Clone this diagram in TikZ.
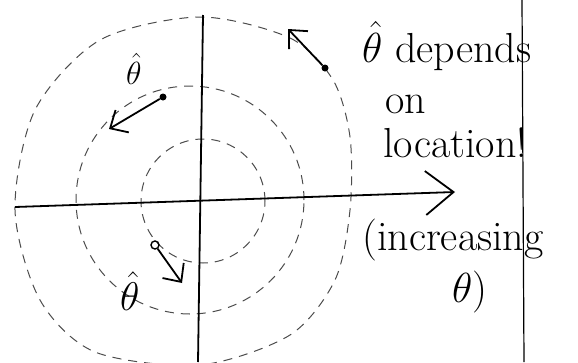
\RequirePackage{fix-cm}
\documentclass[tikz,border=0pt]{standalone}
\usetikzlibrary{arrows.meta}
\tikzset{
  ring/.style={black!70, line width=1pt, dash pattern=on 9pt off 7pt},
  axisline/.style={line width=1.8pt},
  hatarrow/.style={line width=1.8pt, -{Straight Barb[length=14pt,width=26pt]}},
  dot/.style={circle, fill, inner sep=0pt, minimum size=7pt},
  opendot/.style={circle, draw, line width=1.4pt, inner sep=0pt, minimum size=8pt},
  scrawl/.style={font=\fontsize{42}{46}\selectfont, inner sep=0pt, anchor=base west},
  glyph/.style={font=\fontsize{40}{40}\selectfont, inner sep=0pt, anchor=base west},
}
\begin{document}
\begin{tikzpicture}[x=1pt,y=-1pt]
\useasboundingbox (0,0) rectangle (578,362);

% Rings of constant radius
\draw[ring] (203,201) circle[radius=62pt];
\draw[ring] (190,200) circle[radius=114pt];
\draw[ring] plot[smooth cycle] coordinates {(200,17) (290,38) (333,80) (350,137)
  (350,210) (335,280) (290,335) (200,365) (95,352) (40,300) (15,210) (35,110) (100,40)};

% Axes
\coordinate (xstart) at (15,207);
\coordinate (xend) at (455,192);
\coordinate (ytop) at (203,15);
\coordinate (ybot) at (198,362);
\draw[axisline, -{Straight Barb[length=28pt,width=44pt]}] (xstart) -- (xend);
\draw[axisline] (ytop) -- (ybot);

% Margin line
\coordinate (mtop) at (522,0);
\coordinate (mbot) at (524,362);
\draw[line width=1.2pt] (mtop) -- (mbot);

% Unit vectors
\node[dot] (pA) at (325,68) {};
\coordinate (tipA) at (288,29);
\draw[hatarrow] (pA) -- (tipA);

\node[dot] (pB) at (163,97) {};
\coordinate (tipB) at (109,129);
\draw[hatarrow] (pB) -- (tipB);

\node[opendot] (pC) at (155,245) {};
\coordinate (tipC) at (182,283);
\draw[hatarrow] (pC) -- (tipC);

% Labels
\node[glyph] (lblB) at (126,84) {\scalebox{0.8}{$\hat{\theta}$}};
\node[glyph] (lblC) at (120,310) {$\hat{\theta}$};

% Note
\node[scrawl] (note1) at (362,62) {$\hat{\theta}$ depends};
\node[scrawl] (note2) at (385,113) {on};
\node[scrawl] (note3) at (383,157) {location!};
\node[scrawl] (incr1) at (362,250) {(increasing};
\node[scrawl] (incr2) at (452,302) {$\theta$)};

\end{tikzpicture}
\end{document}
